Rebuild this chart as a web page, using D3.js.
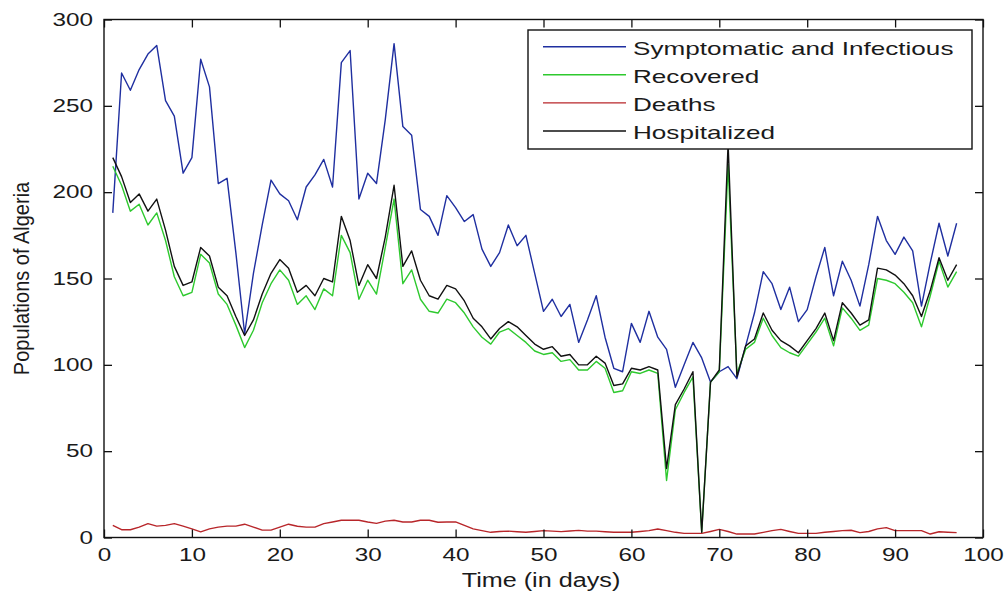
<!DOCTYPE html>
<html>
<head>
<meta charset="utf-8">
<script src="https://cdn.jsdelivr.net/npm/d3@7"></script>
<style>
  html, body { margin: 0; padding: 0; background: #fff; }
  svg { display: block; }
  text { font-family: "Liberation Sans", Arial, sans-serif; fill: #1a1a1a; }
</style>
</head>
<body>
<svg id="chart" width="1005" height="594"></svg>
<script>
// ---- data ----
const days = d3.range(1, 98);
const symptomatic = [188,269,259,271,280,285,253,244,211,220,277,261,205,208,165,118,153,181,207,199,195,184,203,210,219,203,275,282,196,211,205,242,286,238,233,190,186,175,198,191,183,187,167,157,165,181,169,175,153,131,138,128,135,113,126,140,116,98,96,124,113,131,116,109,87,100,113,104,90,96,99,92,111,130,154,147,132,145,125,132,151,168,140,160,149,134,158,186,172,164,174,166,134,159,182,163,182];
const recovered = [215,204,189,193,181,188,172,151,140,142,164,159,141,135,123,110,120,136,147,155,149,135,140,132,144,140,175,165,138,149,141,168,196,147,155,138,131,130,138,136,130,122,116,112,119,121,117,113,108,106,107,102,103,97,97,102,98,84,85,96,95,97,95,33,74,84,93,3,90,96,216,95,109,113,127,117,110,107,105,112,119,127,111,133,127,120,123,150,149,147,142,136,122,140,160,145,154];
const deaths = [7,4.5,4.5,6,8,6.6,7,8,6.6,5,3.3,5,6,6.6,6.6,7.7,6,4.3,4.3,6,7.7,6.5,6,6,8,9,10,10,10,9,8.2,9.5,10,9,9,10,10,8.8,9,9,7,5,4,3,3.5,3.7,3.3,3,3.5,4,3.7,3.4,3.8,4.1,3.7,3.7,3.3,3,3,3,3.5,4,4.9,4,3,2.4,2.4,2.4,3.5,4.7,3.5,2,2,2,3,4,4.7,3.5,2.4,2.4,2.4,3,3.5,4,4.2,2.8,3.5,5,5.7,4,4,4,4,2,3.3,3,2.8];
const hospitalized = [220,209,194,199,189,196,178,157,146,148,168,163,145,140,128,117,126,141,153,161,156,142,146,140,150,148,186,172,146,158,150,174,204,157,166,149,140,138,146,144,137,127,122,115,121,125,122,117,112,109,110.5,105,106,100,100,105,101,88,89,98,97,99,97,40,77,86,96,3,90,97,228,93,111,115,130,120,114,111,107,114,121,130,114,136,130,123,126,156,155,152,147,140,128,143,162,149,158];
const seriesNames = ["Symptomatic and Infectious", "Recovered", "Deaths", "Hospitalized"];
const xTicks = [0,10,20,30,40,50,60,70,80,90,100];
const yTicks = [0,50,100,150,200,250,300];
const xTitle = "Time (in days)";
const yTitle = "Populations of Algeria";

// ---- layout ----
const L = 104, R = 983, T = 19.5, B = 537.5;
const colors = ["#1f2fa0", "#2ec92e", "#b8262a", "#111111"];
const svg = d3.select("#chart");

const x = d3.scaleLinear().domain([0, 100]).range([L, R]);
const y = d3.scaleLinear().domain([0, 300]).range([B, T]);

// series
const allSeries = [symptomatic, recovered, deaths, hospitalized];
const line = d3.line().x((d, i) => x(days[i])).y(d => y(d));
const plot = svg.append("g");
allSeries.forEach((s, k) => {
  plot.append("path").datum(s)
    .attr("fill", "none").attr("stroke", colors[k])
    .attr("stroke-width", 1.4).attr("stroke-linejoin", "round")
    .attr("d", line);
});

// axes
const fs = 18, sx = 1.35;
const gx = svg.append("g").attr("transform", `translate(0,${B})`)
  .call(d3.axisBottom(x).tickValues(xTicks).tickSizeInner(-8).tickSizeOuter(0).tickPadding(10.7));
gx.selectAll("text").attr("font-size", fs).attr("transform", `scale(${sx},1)`);
const gy = svg.append("g").attr("transform", `translate(${L},0)`)
  .call(d3.axisLeft(y).tickValues(yTicks).tickSizeInner(-8).tickSizeOuter(0));
gy.selectAll("text").attr("font-size", fs).attr("x", 0).attr("transform", `translate(-11,0) scale(${sx},1)`);
const gt = svg.append("g").attr("transform", `translate(0,${T})`)
  .call(d3.axisTop(x).tickValues(xTicks).tickSizeInner(-8).tickSizeOuter(0).tickFormat(() => ""));
const gr = svg.append("g").attr("transform", `translate(${R},0)`)
  .call(d3.axisRight(y).tickValues(yTicks).tickSizeInner(-8).tickSizeOuter(0).tickFormat(() => ""));
[gx, gy, gt, gr].forEach(g => {
  g.select(".domain").remove();
  g.selectAll("line").attr("stroke", "#111").attr("stroke-width", 1.3);
  g.selectAll("text").attr("fill", "#1a1a1a").style("font-family", '"Liberation Sans", Arial, sans-serif');
});

// frame
svg.append("rect").attr("x", L).attr("y", T).attr("width", R - L).attr("height", B - T)
  .attr("fill", "none").attr("stroke", "#111").attr("stroke-width", 1.4);

// titles
svg.append("text").attr("text-anchor", "middle").attr("font-size", 21)
  .attr("transform", `translate(541,587) scale(1.2,1)`).text(xTitle);
svg.append("text").attr("text-anchor", "middle").attr("font-size", 20)
  .attr("transform", `translate(29,${(T + B) / 2}) scale(1.1,1) rotate(-90)`).text(yTitle);

// legend
const lg = svg.append("g");
lg.append("rect").attr("x", 528).attr("y", 30).attr("width", 444).attr("height", 119)
  .attr("fill", "#fff").attr("stroke", "#111").attr("stroke-width", 1.4);
seriesNames.forEach((name, k) => {
  const ry = 46.7 + k * 28.1;
  lg.append("line").attr("x1", 543).attr("x2", 626).attr("y1", ry).attr("y2", ry)
    .attr("stroke", colors[k]).attr("stroke-width", 1.4);
  lg.append("text").attr("font-size", 18)
    .attr("transform", `translate(633,${ry + 8.3}) scale(1.45,1)`).text(name);
});
</script>
</body>
</html>
